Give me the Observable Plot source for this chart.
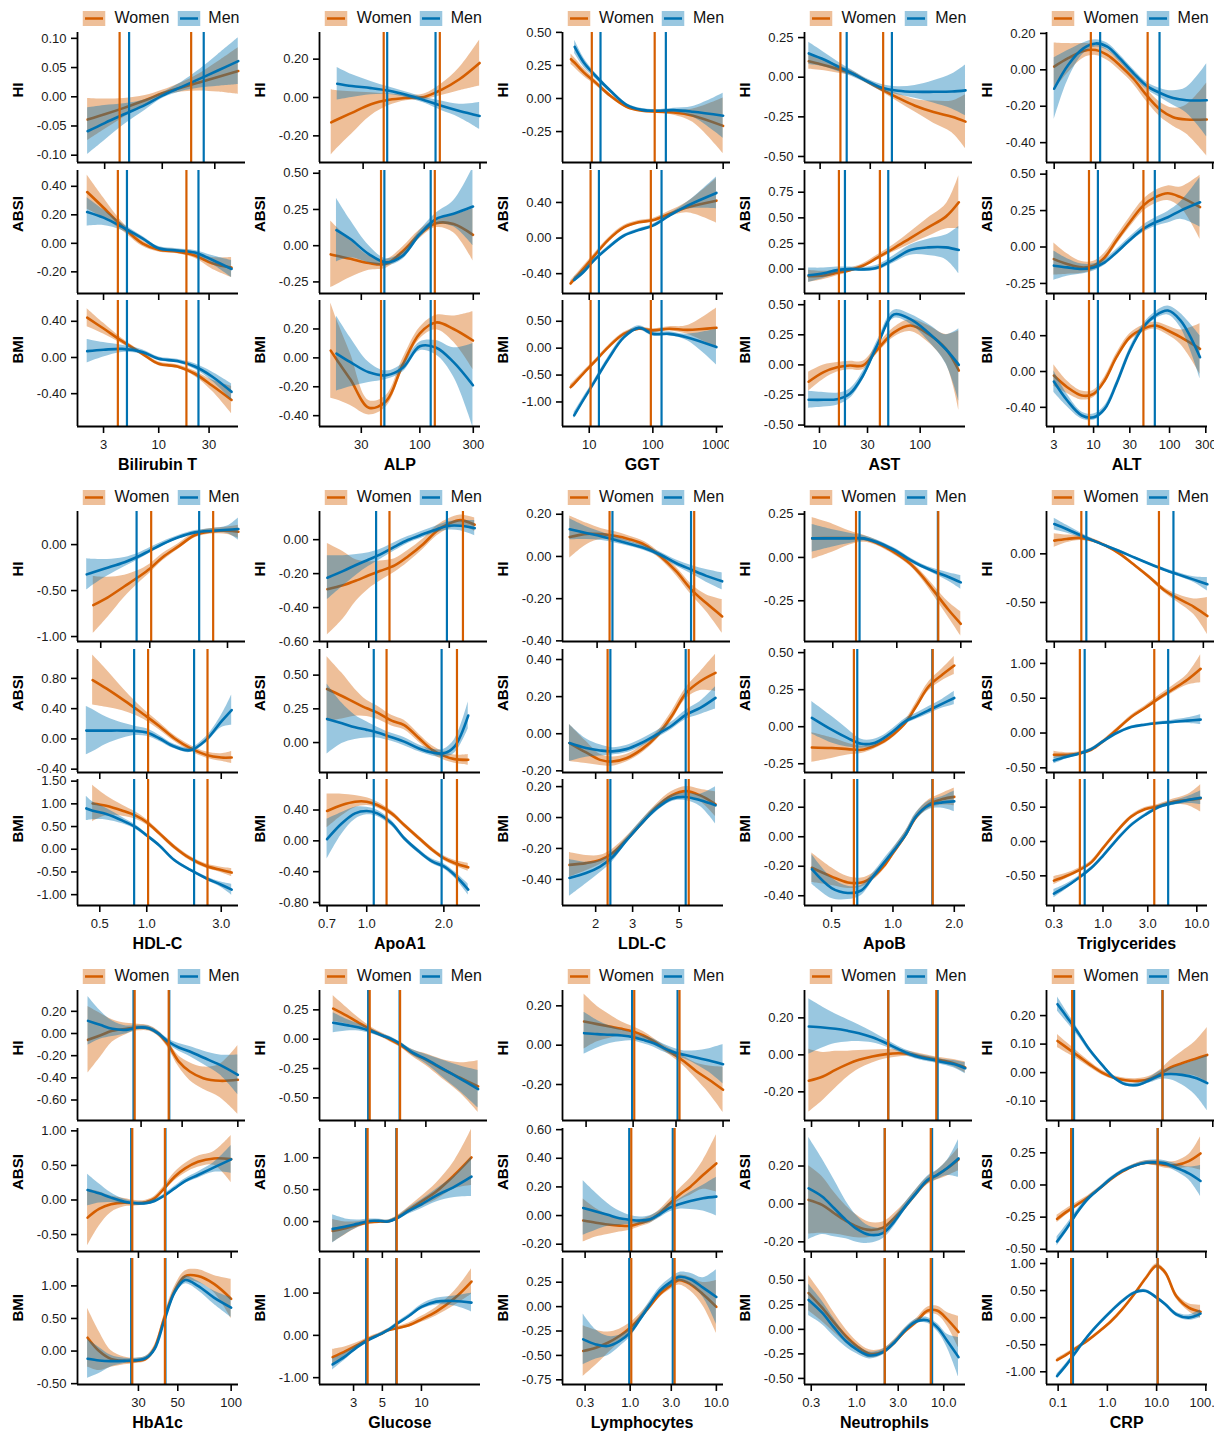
<!DOCTYPE html>
<html><head><meta charset="utf-8">
<script src="https://cdn.jsdelivr.net/npm/d3@7"></script>
<script src="https://cdn.jsdelivr.net/npm/@observablehq/plot@0.6"></script>
<style>
body{margin:0;background:#fff;font-family:"Liberation Sans",Arial,Helvetica,sans-serif;}
#chart{position:relative;width:1227px;height:1435px;overflow:hidden;background:#fff;}
.panel{position:absolute;}
.legend{position:absolute;display:flex;align-items:center;height:16px;font-size:16px;line-height:16px;color:#111;white-space:nowrap;transform:translateX(-50%);}
.legend svg{display:block;}
.xtitle{position:absolute;font-weight:bold;font-size:16px;line-height:16px;color:#000;transform:translateX(-50%);white-space:nowrap;}
</style></head><body><div id="chart"></div><script>
// ---------- categories ----------
const markers = ["Bilirubin T","ALP","GGT","AST","ALT","HDL-C","ApoA1","LDL-C","ApoB","Triglycerides","HbA1c","Glucose","Lymphocytes","Neutrophils","CRP"];
const outcomes = ["HI","ABSI","BMI"];
const sexes = ["Women","Men"];

// ---------- x axis ticks ----------
const xTickValues = [[3,10,30],[30,100,300],[10,100,1000],[10,30,100],[3,10,30,100,300],[0.5,1,3],[0.7,1,2],[2,3,5],[0.5,1,2],[0.3,1,3,10],[30,50,100],[3,5,10],[0.3,1,3,10],[0.3,1,3,10],[0.1,1,10,100]];
const xTickLabels = [["3","10","30"],["30","100","300"],["10","100","1000"],["10","30","100"],["3","10","30","100","300"],["0.5","1.0","3.0"],["0.7","1.0","2.0"],["2","3","5"],["0.5","1.0","2.0"],["0.3","1.0","3.0","10.0"],["30","50","100"],["3","5","10"],["0.3","1.0","3.0","10.0"],["0.3","1.0","3.0","10.0"],["0.1","1.0","10.0","100.0"]];
const xDomains = [[1.7,57],[12.7,348],[3.8,1290],[7.1,282],[2.4,316],[0.36,3.87],[0.654,2.78],[1.39,8.13],[0.368,2.27],[0.25,13],[13.6,110],[1.64,28.5],[0.164,12.1],[0.251,17.8],[0.058,108]];

// ---------- percentile reference lines ----------
const womenCuts = [[4.1,18.3],[45,136],[10.5,93],[15.6,39.8],[8.7,45.3],[1.02,2.45],[1.195,2.25],[2.28,5.55],[0.643,1.567],[0.567,3.52],[27.7,42.3],[3.85,6.45],[1.03,3.28],[2.1,7.1],[0.183,10.5]];
const menCuts   = [[5.0,23.8],[48.2,125],[14.2,137],[17.9,48.2],[11.4,64],[0.83,2.01],[1.065,1.96],[2.35,5.37],[0.668,1.56],[0.638,4.95],[27.3,42.6],[3.75,6.4],[0.975,3.12],[2.1,7.35],[0.2,10.5]];

// ---------- y axis domains & ticks ----------
const yDomainsHI = [[-0.1125,0.11],[-0.339,0.339],[-0.484,0.499],[-0.538,0.282],[-0.509,0.205],[-1.054,0.36],[-0.6,0.166],[-0.403,0.213],[-0.485,0.265],[-0.901,0.435],[-0.785,0.388],[-0.693,0.415],[-0.383,0.278],[-0.355,0.348],[-0.168,0.288]];
const yDomainsABSI = [[-0.352,0.511],[-0.33,0.519],[-0.623,0.759],[-0.238,0.962],[-0.319,0.525],[-0.444,1.182],[-0.222,0.69],[-0.209,0.454],[-0.309,0.521],[-0.567,1.2],[-0.745,1.034],[-0.469,1.458],[-0.251,0.608],[-0.251,0.398],[-0.517,0.439]];
const yDomainsBMI = [[-0.763,0.63],[-0.475,0.397],[-1.456,0.886],[-0.512,0.535],[-0.614,0.793],[-1.239,1.536],[-0.839,0.796],[-0.569,0.246],[-0.466,0.388],[-0.932,0.903],[-0.513,1.42],[-1.162,1.818],[-0.798,0.493],[-0.562,0.722],[-1.235,1.093]];
const yTicksHI = [[-0.1,-0.05,0,0.05,0.1],[-0.2,0,0.2],[-0.25,0,0.25,0.5],[-0.5,-0.25,0,0.25],[-0.4,-0.2,0,0.2],[-1,-0.5,0],[-0.6,-0.4,-0.2,0],[-0.4,-0.2,0,0.2],[-0.25,0,0.25],[-0.5,0],[-0.6,-0.4,-0.2,0,0.2],[-0.5,-0.25,0,0.25],[-0.2,0,0.2],[-0.2,0,0.2],[-0.1,0,0.1,0.2]];
const yTicksABSI = [[-0.2,0,0.2,0.4],[-0.25,0,0.25,0.5],[-0.4,0,0.4],[0,0.25,0.5,0.75],[-0.25,0,0.25,0.5],[-0.4,0,0.4,0.8],[0,0.25,0.5],[-0.2,0,0.2,0.4],[-0.25,0,0.25,0.5],[-0.5,0,0.5,1],[-0.5,0,0.5,1],[0,0.5,1],[-0.2,0,0.2,0.4,0.6],[-0.2,0,0.2],[-0.5,-0.25,0,0.25]];
const yTicksBMI = [[-0.4,0,0.4],[-0.4,-0.2,0,0.2],[-1,-0.5,0,0.5],[-0.5,-0.25,0,0.25,0.5],[-0.4,0,0.4],[-1,-0.5,0,0.5,1,1.5],[-0.8,-0.4,0,0.4],[-0.4,-0.2,0,0.2],[-0.4,-0.2,0,0.2],[-0.5,0,0.5],[-0.5,0,0.5,1],[-1,0,1],[-0.75,-0.5,-0.25,0,0.25],[-0.5,-0.25,0,0.25,0.5],[-1,-0.5,0,0.5,1]];

// ---------- curves: each panel = [women estimate, women ±CI, men estimate, men ±CI] at the marker's x knots ----------
const bilirubinX = [2.1,3,4.5,7,10,15,22,32,49];
const bilirubinHI = [
  [-0.039,-0.030,-0.019,-0.006,0.006,0.016,0.025,0.034,0.044],
  [0.036,0.026,0.016,0.008,0.005,0.008,0.015,0.026,0.040],
  [-0.059,-0.045,-0.030,-0.014,0.002,0.017,0.031,0.045,0.061],
  [0.040,0.030,0.018,0.009,0.005,0.008,0.016,0.027,0.040]];
const bilirubinABSI = [
  [0.36,0.25,0.12,0.00,-0.045,-0.058,-0.085,-0.14,-0.17],
  [0.12,0.07,0.03,0.02,0.015,0.015,0.02,0.04,0.07],
  [0.22,0.18,0.115,0.035,-0.035,-0.05,-0.065,-0.115,-0.18],
  [0.10,0.055,0.025,0.015,0.012,0.012,0.015,0.03,0.06]];
const bilirubinBMI = [
  [0.44,0.32,0.18,0.04,-0.07,-0.10,-0.18,-0.31,-0.47],
  [0.10,0.06,0.03,0.02,0.02,0.02,0.03,0.06,0.15],
  [0.07,0.085,0.095,0.06,-0.015,-0.04,-0.10,-0.21,-0.38],
  [0.13,0.08,0.04,0.025,0.02,0.02,0.03,0.05,0.09]];

const alpX = [16,18,24,35,50,70,100,140,200,298];
const alpHI = [
  [-0.13,-0.115,-0.08,-0.035,-0.012,-0.002,0.003,0.04,0.095,0.18],
  [0.17,0.15,0.11,0.06,0.03,0.015,0.015,0.03,0.06,0.12],
  [null,0.072,0.06,0.049,0.035,0.014,-0.014,-0.043,-0.07,-0.096],
  [null,0.085,0.06,0.035,0.02,0.015,0.015,0.025,0.035,0.07]];
const alpABSI = [
  [-0.06,-0.07,-0.09,-0.12,-0.125,-0.04,0.08,0.155,0.15,0.075],
  [0.23,0.2,0.13,0.05,0.03,0.03,0.03,0.03,0.06,0.18],
  [null,0.108,0.046,-0.058,-0.115,-0.07,0.08,0.185,0.22,0.27],
  [null,0.22,0.13,0.06,0.025,0.025,0.025,0.04,0.09,0.27]];
const alpBMI = [
  [0.05,-0.01,-0.15,-0.345,-0.30,-0.05,0.17,0.245,0.20,0.12],
  [0.33,0.28,0.18,0.05,0.04,0.04,0.04,0.05,0.09,0.2],
  [null,0.03,-0.03,-0.10,-0.12,-0.07,0.08,0.07,-0.03,-0.19],
  [null,0.26,0.17,0.07,0.03,0.03,0.03,0.05,0.1,0.29]];

const ggtX = [5.1,5.8,8,12,20,35,60,100,180,350,1000];
const ggtHI = [
  [0.297,0.27,0.196,0.12,0.02,-0.063,-0.093,-0.10,-0.106,-0.13,-0.207],
  [0.04,0.037,0.03,0.02,0.015,0.01,0.01,0.01,0.02,0.05,0.21],
  [null,0.39,0.27,0.17,0.058,-0.048,-0.086,-0.093,-0.088,-0.10,-0.13],
  [null,0.05,0.035,0.02,0.015,0.01,0.01,0.01,0.015,0.04,0.17]];
const ggtABSI = [
  [-0.51,-0.465,-0.35,-0.2,-0.02,0.12,0.177,0.2,0.27,0.345,0.42],
  [0.03,0.03,0.03,0.025,0.02,0.02,0.02,0.02,0.03,0.06,0.25],
  [null,-0.47,-0.387,-0.248,-0.105,0.026,0.09,0.14,0.25,0.364,0.507],
  [null,0.03,0.025,0.02,0.015,0.015,0.015,0.015,0.02,0.04,0.18]];
const ggtBMI = [
  [-0.725,-0.66,-0.477,-0.26,0.02,0.266,0.36,0.33,0.36,0.34,0.378],
  [0.05,0.05,0.04,0.03,0.03,0.03,0.03,0.03,0.04,0.08,0.37],
  [null,-1.25,-0.97,-0.63,-0.2,0.2,0.378,0.266,0.266,0.2,0.02],
  [null,0.06,0.05,0.04,0.04,0.04,0.04,0.04,0.04,0.06,0.33]];

const astX = [7.8,11,15,20,27,38,55,80,120,180,242];
const astHI = [
  [0.1,0.075,0.05,0.025,-0.022,-0.075,-0.13,-0.18,-0.22,-0.25,-0.28],
  [0.05,0.035,0.025,0.015,0.012,0.015,0.025,0.04,0.07,0.1,0.17],
  [0.15,0.11,0.065,0.025,-0.02,-0.065,-0.085,-0.092,-0.092,-0.09,-0.083],
  [0.07,0.045,0.03,0.02,0.015,0.02,0.025,0.04,0.07,0.11,0.16]];
const astABSI = [
  [-0.07,-0.062,-0.036,-0.01,0.033,0.114,0.205,0.303,0.408,0.512,0.652],
  [0.06,0.04,0.03,0.02,0.02,0.025,0.035,0.06,0.09,0.12,0.26],
  [-0.06,-0.04,-0.01,0,-0.003,0.016,0.098,0.186,0.212,0.212,0.186],
  [0.07,0.05,0.03,0.02,0.02,0.025,0.035,0.05,0.08,0.12,0.23]];
const astBMI = [
  [-0.14,-0.06,-0.02,-0.005,-0.005,0.133,0.27,0.327,0.258,0.133,-0.047],
  [0.08,0.06,0.04,0.035,0.035,0.035,0.04,0.05,0.07,0.12,0.33],
  [-0.29,-0.29,-0.285,-0.24,-0.09,0.175,0.42,0.38,0.27,0.13,0.0],
  [0.07,0.06,0.05,0.04,0.035,0.035,0.035,0.04,0.07,0.12,0.3]];

const altX = [3,4.5,7,10,14,20,30,45,65,95,140,252];
const altHI = [
  [0.018,0.064,0.104,0.109,0.082,0.027,-0.049,-0.145,-0.218,-0.26,-0.273,-0.273],
  [0.13,0.08,0.04,0.03,0.03,0.03,0.03,0.035,0.04,0.05,0.08,0.2],
  [-0.104,0.027,0.118,0.145,0.127,0.064,-0.018,-0.091,-0.127,-0.155,-0.167,-0.167],
  [0.17,0.08,0.03,0.02,0.02,0.02,0.02,0.02,0.025,0.04,0.07,0.2]];
const altABSI = [
  [-0.083,-0.117,-0.14,-0.128,-0.071,0.044,0.17,0.284,0.342,0.369,0.342,0.273],
  [0.11,0.07,0.04,0.03,0.03,0.03,0.035,0.04,0.045,0.05,0.07,0.22],
  [-0.128,-0.14,-0.151,-0.14,-0.105,-0.037,0.048,0.124,0.17,0.204,0.25,0.307],
  [0.1,0.06,0.035,0.025,0.02,0.02,0.02,0.025,0.03,0.04,0.06,0.17]];
const altBMI = [
  [-0.045,-0.175,-0.268,-0.249,-0.1,0.16,0.383,0.476,0.513,0.458,0.383,0.253],
  [0.12,0.07,0.05,0.04,0.04,0.04,0.04,0.04,0.04,0.05,0.08,0.28],
  [-0.112,-0.324,-0.491,-0.51,-0.417,-0.138,0.234,0.495,0.625,0.681,0.569,0.16],
  [0.12,0.07,0.04,0.035,0.035,0.03,0.03,0.035,0.04,0.05,0.08,0.24]];

const hdlX = [0.41,0.45,0.55,0.7,0.85,1.0,1.2,1.5,1.9,2.4,3.0,3.5];
const hdlHI = [
  [null,-0.658,-0.576,-0.453,-0.353,-0.263,-0.137,-0.02,0.104,0.144,0.151,0.14],
  [null,0.31,0.22,0.12,0.07,0.05,0.04,0.03,0.03,0.03,0.04,0.07],
  [-0.324,-0.3,-0.252,-0.191,-0.13,-0.065,0.007,0.08,0.133,0.151,0.162,0.169],
  [0.17,0.14,0.09,0.05,0.035,0.03,0.025,0.02,0.02,0.025,0.04,0.12]];
const hdlABSI = [
  [null,0.778,0.668,0.523,0.4,0.295,0.171,0.009,-0.123,-0.211,-0.246,-0.246],
  [null,0.33,0.25,0.15,0.09,0.06,0.05,0.04,0.04,0.04,0.05,0.08],
  [0.11,0.11,0.11,0.11,0.105,0.084,0.009,-0.101,-0.15,-0.013,0.229,0.382],
  [0.32,0.28,0.18,0.1,0.06,0.05,0.04,0.03,0.03,0.04,0.08,0.2]];
const hdlBMI = [
  [null,1.007,0.957,0.848,0.739,0.594,0.355,0.051,-0.203,-0.37,-0.457,-0.514],
  [null,0.4,0.22,0.12,0.08,0.06,0.05,0.05,0.05,0.05,0.06,0.09],
  [0.899,0.848,0.775,0.63,0.486,0.304,0.087,-0.239,-0.457,-0.638,-0.783,-0.891],
  [0.27,0.2,0.13,0.07,0.05,0.04,0.035,0.035,0.035,0.04,0.06,0.12]];

const apoa1X = [0.7,0.8,0.9,1.0,1.1,1.25,1.4,1.6,1.8,2.0,2.2,2.49];
const apoa1HI = [
  [-0.292,-0.269,-0.24,-0.21,-0.185,-0.152,-0.099,-0.025,0.053,0.095,0.115,0.088],
  [0.27,0.2,0.12,0.08,0.06,0.04,0.035,0.03,0.03,0.03,0.03,0.04],
  [-0.224,-0.185,-0.148,-0.117,-0.088,-0.041,-0.002,0.033,0.062,0.082,0.082,0.068],
  [0.13,0.09,0.06,0.04,0.03,0.025,0.02,0.02,0.02,0.025,0.03,0.045]];
const apoa1ABSI = [
  [0.397,0.345,0.296,0.254,0.222,0.163,0.13,0.032,-0.054,-0.099,-0.123,-0.128],
  [0.24,0.17,0.1,0.06,0.05,0.04,0.035,0.03,0.03,0.03,0.03,0.04],
  [0.175,0.143,0.113,0.094,0.074,0.039,0.007,-0.044,-0.074,-0.079,-0.03,0.2],
  [0.26,0.15,0.09,0.06,0.04,0.03,0.03,0.025,0.025,0.03,0.05,0.1]];
const apoa1BMI = [
  [0.387,0.465,0.508,0.508,0.465,0.357,0.206,0.034,-0.116,-0.224,-0.288,-0.344],
  [0.22,0.14,0.08,0.05,0.04,0.035,0.03,0.03,0.03,0.03,0.035,0.05],
  [0.022,0.228,0.357,0.387,0.357,0.228,0.034,-0.138,-0.267,-0.331,-0.439,-0.632],
  [0.26,0.14,0.08,0.05,0.04,0.035,0.03,0.03,0.03,0.035,0.04,0.07]];

const ldlX = [1.5,1.8,2.1,2.4,2.8,3.3,3.9,4.6,5.4,6.3,7.45];
const ldlHI = [
  [0.092,0.107,0.106,0.098,0.082,0.055,0.0,-0.071,-0.158,-0.221,-0.284],
  [0.1,0.05,0.025,0.02,0.015,0.015,0.015,0.02,0.025,0.04,0.08],
  [0.129,0.11,0.095,0.079,0.06,0.039,0.008,-0.032,-0.063,-0.092,-0.118],
  [0.05,0.03,0.02,0.015,0.012,0.012,0.012,0.015,0.02,0.03,0.04]];
const ldlABSI = [
  [-0.05,-0.101,-0.141,-0.15,-0.132,-0.086,-0.014,0.094,0.22,0.283,0.328],
  [0.1,0.06,0.03,0.025,0.02,0.02,0.02,0.025,0.03,0.05,0.1],
  [-0.05,-0.077,-0.09,-0.095,-0.083,-0.05,-0.005,0.043,0.103,0.139,0.193],
  [0.1,0.05,0.03,0.02,0.02,0.02,0.02,0.02,0.025,0.035,0.06]];
const ldlBMI = [
  [-0.306,-0.295,-0.274,-0.231,-0.145,-0.039,0.068,0.143,0.171,0.143,0.086],
  [0.08,0.05,0.03,0.025,0.02,0.02,0.02,0.025,0.03,0.04,0.08],
  [-0.391,-0.359,-0.317,-0.257,-0.15,-0.039,0.058,0.122,0.133,0.111,0.079],
  [0.12,0.07,0.04,0.03,0.02,0.02,0.02,0.02,0.025,0.04,0.12]];

const apobX = [0.4,0.5,0.6,0.7,0.8,0.9,1.0,1.15,1.3,1.5,1.75,2.0];
const apobHI = [
  [0.11,0.112,0.112,0.108,0.085,0.054,0.021,-0.033,-0.1,-0.196,-0.302,-0.383],
  [0.12,0.08,0.04,0.02,0.015,0.015,0.015,0.015,0.02,0.03,0.045,0.07],
  [0.11,0.11,0.11,0.11,0.09,0.063,0.035,-0.013,-0.048,-0.081,-0.113,-0.144],
  [0.08,0.05,0.03,0.015,0.012,0.012,0.012,0.012,0.012,0.015,0.025,0.04]];
const apobABSI = [
  [-0.14,-0.144,-0.151,-0.156,-0.133,-0.099,-0.054,0.025,0.138,0.273,0.352,0.413],
  [0.1,0.07,0.04,0.025,0.02,0.02,0.02,0.02,0.025,0.03,0.04,0.06],
  [0.06,-0.02,-0.077,-0.115,-0.111,-0.077,-0.032,0.036,0.07,0.111,0.156,0.194],
  [0.11,0.09,0.06,0.03,0.025,0.02,0.02,0.02,0.02,0.025,0.03,0.045]];
const apobBMI = [
  [-0.21,-0.27,-0.31,-0.31,-0.27,-0.2,-0.11,0.01,0.135,0.22,0.255,0.27],
  [0.1,0.06,0.04,0.03,0.025,0.025,0.025,0.025,0.025,0.03,0.04,0.06],
  [-0.22,-0.348,-0.381,-0.363,-0.269,-0.179,-0.101,0.011,0.139,0.213,0.233,0.24],
  [0.1,0.07,0.045,0.035,0.025,0.025,0.025,0.025,0.025,0.03,0.04,0.07]];

const tgX = [0.3,0.4,0.55,0.75,1.0,1.4,2.0,2.8,4.0,5.5,8.0,11];
const tgHI = [
  [0.136,0.153,0.163,0.136,0.085,0,-0.119,-0.238,-0.374,-0.459,-0.544,-0.639],
  [0.07,0.04,0.025,0.02,0.015,0.015,0.015,0.02,0.025,0.04,0.08,0.19],
  [0.306,0.255,0.194,0.136,0.085,0.027,-0.041,-0.102,-0.163,-0.211,-0.265,-0.313],
  [0.06,0.04,0.025,0.015,0.012,0.012,0.012,0.012,0.015,0.02,0.03,0.07]];
const tgABSI = [
  [-0.313,-0.313,-0.298,-0.24,-0.12,0.048,0.231,0.36,0.505,0.625,0.769,0.923],
  [0.05,0.03,0.025,0.02,0.02,0.02,0.025,0.03,0.04,0.05,0.08,0.2],
  [-0.394,-0.346,-0.298,-0.231,-0.12,0.0,0.087,0.12,0.144,0.159,0.178,0.192],
  [0.05,0.03,0.02,0.015,0.015,0.015,0.015,0.015,0.02,0.025,0.04,0.07]];
const tgBMI = [
  [-0.57,-0.507,-0.42,-0.304,-0.097,0.145,0.362,0.469,0.517,0.575,0.604,0.628],
  [0.06,0.04,0.03,0.025,0.02,0.02,0.02,0.025,0.03,0.04,0.08,0.2],
  [-0.758,-0.662,-0.531,-0.386,-0.208,0.024,0.242,0.386,0.507,0.556,0.604,0.638],
  [0.06,0.04,0.025,0.02,0.02,0.02,0.02,0.02,0.025,0.03,0.05,0.1]];

const hba1cX = [15.5,18,21,25,29,33,37,42,48,55,65,80,100];
const hba1cHI = [
  [-0.057,-0.018,0.024,0.042,0.054,0.048,0.003,-0.102,-0.253,-0.343,-0.403,-0.427,-0.418],
  [0.3,0.2,0.1,0.05,0.03,0.025,0.025,0.03,0.05,0.08,0.1,0.15,0.31],
  [0.114,0.078,0.042,0.033,0.054,0.048,0.003,-0.072,-0.126,-0.162,-0.217,-0.283,-0.373],
  [0.22,0.13,0.07,0.035,0.02,0.02,0.02,0.025,0.035,0.045,0.06,0.09,0.18]];
const hba1cABSI = [
  [-0.255,-0.13,-0.063,-0.038,-0.048,-0.034,0.024,0.168,0.337,0.457,0.553,0.601,0.591],
  [0.41,0.25,0.12,0.06,0.04,0.03,0.03,0.04,0.06,0.07,0.08,0.1,0.34],
  [0.144,0.096,0.034,-0.024,-0.048,-0.048,-0.014,0.063,0.168,0.274,0.361,0.471,0.587],
  [0.23,0.14,0.07,0.035,0.025,0.025,0.025,0.025,0.03,0.035,0.045,0.07,0.2]];
const hba1cBMI = [
  [0.205,0.0,-0.12,-0.15,-0.15,-0.12,0.05,0.51,0.92,1.15,1.15,1.03,0.8],
  [0.45,0.3,0.13,0.06,0.04,0.04,0.04,0.05,0.07,0.08,0.1,0.13,0.3],
  [-0.118,-0.144,-0.154,-0.15,-0.14,-0.11,0.03,0.47,0.9,1.09,1.0,0.82,0.667],
  [0.3,0.2,0.09,0.04,0.03,0.03,0.03,0.04,0.05,0.06,0.07,0.1,0.15]];

const glucoseX = [2.07,2.6,3.2,4.0,4.8,5.5,6.5,8,10,13,18,24.3];
const glucoseHI = [
  [0.26,0.2,0.14,0.075,0.03,-0.005,-0.05,-0.12,-0.175,-0.25,-0.33,-0.403],
  [0.11,0.07,0.04,0.025,0.02,0.02,0.02,0.03,0.05,0.08,0.13,0.22],
  [0.14,0.12,0.1,0.065,0.03,0.005,-0.04,-0.115,-0.17,-0.245,-0.338,-0.426],
  [0.085,0.05,0.03,0.02,0.015,0.015,0.015,0.025,0.04,0.07,0.11,0.16]];
const glucoseABSI = [
  [-0.147,-0.105,-0.052,-0.01,0.0,0.0,0.063,0.183,0.314,0.471,0.733,1.005],
  [0.18,0.1,0.05,0.03,0.025,0.025,0.03,0.05,0.08,0.13,0.22,0.44],
  [-0.115,-0.078,-0.036,0.01,0.01,0.0,0.052,0.167,0.271,0.406,0.547,0.703],
  [0.22,0.12,0.06,0.03,0.025,0.025,0.03,0.05,0.07,0.1,0.17,0.31]];
const glucoseBMI = [
  [-0.514,-0.372,-0.229,-0.071,0.024,0.119,0.17,0.24,0.38,0.561,0.877,1.273],
  [0.18,0.1,0.06,0.04,0.035,0.035,0.04,0.05,0.07,0.1,0.17,0.3],
  [-0.688,-0.49,-0.277,-0.095,0.024,0.119,0.277,0.458,0.672,0.798,0.814,0.775],
  [0.13,0.08,0.05,0.035,0.03,0.03,0.035,0.04,0.06,0.08,0.12,0.22]];

const lymphX = [0.285,0.4,0.55,0.75,1.0,1.3,1.7,2.2,2.9,3.7,5,7,10];
const lymphHI = [
  [0.12,0.107,0.095,0.083,0.069,0.049,0.019,-0.015,-0.049,-0.083,-0.131,-0.176,-0.227],
  [0.14,0.09,0.06,0.035,0.025,0.02,0.015,0.015,0.02,0.025,0.04,0.07,0.115],
  [0.061,0.056,0.053,0.049,0.041,0.027,0.01,-0.015,-0.037,-0.049,-0.063,-0.078,-0.097],
  [0.106,0.07,0.045,0.03,0.02,0.02,0.02,0.02,0.02,0.02,0.035,0.06,0.1]];
const lymphABSI = [
  [-0.035,-0.05,-0.062,-0.07,-0.072,-0.053,-0.03,0.016,0.086,0.144,0.202,0.283,0.364],
  [0.15,0.1,0.07,0.045,0.03,0.025,0.025,0.025,0.03,0.04,0.06,0.1,0.2],
  [0.053,0.028,0.005,-0.019,-0.03,-0.035,-0.026,0.009,0.056,0.079,0.102,0.121,0.132],
  [0.19,0.13,0.08,0.05,0.03,0.025,0.025,0.025,0.03,0.035,0.06,0.09,0.135]];
const lymphBMI = [
  [-0.455,-0.421,-0.37,-0.301,-0.216,-0.113,0.007,0.127,0.212,0.271,0.229,0.127,-0.003],
  [0.26,0.18,0.11,0.07,0.05,0.04,0.035,0.035,0.04,0.05,0.07,0.12,0.27],
  [-0.336,-0.387,-0.404,-0.353,-0.267,-0.13,0.024,0.161,0.247,0.305,0.281,0.195,0.099],
  [0.26,0.15,0.1,0.06,0.045,0.035,0.035,0.035,0.04,0.045,0.06,0.1,0.28]];

const neutX = [0.28,0.4,0.55,0.75,1.0,1.4,2.0,2.7,3.6,4.8,6.5,8.5,11,14.8];
const neutHI = [
  [-0.14,-0.117,-0.081,-0.05,-0.027,-0.009,0.004,0.009,0.005,-0.009,-0.022,-0.032,-0.045,-0.068],
  [0.17,0.13,0.1,0.07,0.05,0.035,0.025,0.02,0.015,0.015,0.015,0.015,0.02,0.03],
  [0.153,0.148,0.141,0.13,0.117,0.095,0.063,0.032,0.005,-0.014,-0.027,-0.04,-0.05,-0.072],
  [0.15,0.11,0.08,0.06,0.045,0.03,0.02,0.015,0.015,0.015,0.015,0.015,0.02,0.03]];
const neutABSI = [
  [0.021,-0.005,-0.049,-0.089,-0.119,-0.137,-0.125,-0.075,-0.014,0.056,0.121,0.153,0.188,0.235],
  [0.18,0.15,0.11,0.08,0.06,0.04,0.03,0.025,0.02,0.02,0.02,0.025,0.04,0.06],
  [0.082,0.039,-0.023,-0.084,-0.132,-0.163,-0.154,-0.093,-0.014,0.056,0.126,0.155,0.19,0.24],
  [0.27,0.2,0.15,0.1,0.07,0.045,0.03,0.025,0.02,0.02,0.02,0.025,0.04,0.1]];
const neutBMI = [
  [0.37,0.221,0.068,-0.068,-0.17,-0.249,-0.228,-0.136,-0.017,0.075,0.19,0.19,0.102,-0.027],
  [0.18,0.14,0.1,0.07,0.05,0.04,0.03,0.03,0.03,0.03,0.035,0.045,0.07,0.16],
  [0.3,0.17,0.017,-0.119,-0.204,-0.266,-0.232,-0.136,-0.01,0.08,0.092,0.017,-0.119,-0.283],
  [0.16,0.12,0.09,0.06,0.045,0.035,0.03,0.025,0.025,0.025,0.03,0.04,0.07,0.2]];

const crpX = [0.095,0.15,0.25,0.4,0.7,1.2,2,3.5,6,10,15,25,45,78];
const crpHI = [
  [0.111,0.085,0.056,0.029,0.0,-0.018,-0.027,-0.029,-0.022,-0.002,0.018,0.033,0.048,0.062],
  [0.023,0.018,0.013,0.01,0.008,0.007,0.007,0.008,0.01,0.015,0.025,0.04,0.06,0.096],
  [0.24,0.191,0.135,0.08,0.027,-0.018,-0.041,-0.043,-0.026,-0.008,-0.005,-0.008,-0.018,-0.037],
  [0.025,0.018,0.012,0.009,0.007,0.006,0.006,0.007,0.01,0.015,0.02,0.035,0.06,0.097]];
const crpABSI = [
  [-0.264,-0.207,-0.15,-0.098,-0.026,0.047,0.103,0.15,0.173,0.168,0.155,0.155,0.186,0.245],
  [0.03,0.025,0.02,0.015,0.012,0.012,0.012,0.012,0.015,0.02,0.025,0.03,0.05,0.13],
  [-0.439,-0.336,-0.207,-0.109,-0.026,0.052,0.109,0.15,0.173,0.176,0.168,0.134,0.09,0.031],
  [0.035,0.03,0.02,0.015,0.012,0.012,0.012,0.012,0.015,0.02,0.02,0.03,0.05,0.12]];
const crpBMI = [
  [-0.784,-0.679,-0.543,-0.42,-0.247,-0.062,0.154,0.432,0.728,0.957,0.833,0.401,0.185,0.111],
  [0.03,0.03,0.025,0.02,0.02,0.02,0.02,0.025,0.03,0.04,0.05,0.05,0.07,0.12],
  [-1.08,-0.864,-0.586,-0.34,-0.093,0.123,0.309,0.463,0.494,0.37,0.247,0.062,0.0,0.074],
  [0.04,0.035,0.025,0.02,0.02,0.02,0.02,0.02,0.025,0.03,0.035,0.04,0.05,0.07]];

// table tying the small arrays to the markers
const knots = [bilirubinX,alpX,ggtX,astX,altX,hdlX,apoa1X,ldlX,apobX,tgX,hba1cX,glucoseX,lymphX,neutX,crpX];
const panels = [
  [bilirubinHI,bilirubinABSI,bilirubinBMI],[alpHI,alpABSI,alpBMI],[ggtHI,ggtABSI,ggtBMI],[astHI,astABSI,astBMI],[altHI,altABSI,altBMI],
  [hdlHI,hdlABSI,hdlBMI],[apoa1HI,apoa1ABSI,apoa1BMI],[ldlHI,ldlABSI,ldlBMI],[apobHI,apobABSI,apobBMI],[tgHI,tgABSI,tgBMI],
  [hba1cHI,hba1cABSI,hba1cBMI],[glucoseHI,glucoseABSI,glucoseBMI],[lymphHI,lymphABSI,lymphBMI],[neutHI,neutABSI,neutBMI],[crpHI,crpABSI,crpBMI]];
const yDomains = [yDomainsHI, yDomainsABSI, yDomainsBMI];
const yTicks = [yTicksHI, yTicksABSI, yTicksBMI];

// ---------- styling / layout ----------
const colors = {Women: "#D55E00", Men: "#0072B2"};
const FONT = "'Liberation Sans', Arial, Helvetica, sans-serif";
const COLW = 242.3, GROUPH = 479, ML = 77, MT = 10, MR = 6.5;
const rowsLayout = [{top: 32, h: 130, w: 168}, {top: 170, h: 123, w: 161}, {top: 300, h: 126, w: 161}];
const chart = document.getElementById("chart");

function series(xs, p, s) {
  const est = p[s * 2], ci = p[s * 2 + 1];
  const out = [];
  xs.forEach((x, i) => { if (est[i] != null) out.push({x, y: est[i], lo: est[i] - ci[i], hi: est[i] + ci[i]}); });
  return out;
}

markers.forEach((name, m) => {
  const g = Math.floor(m / 5), c = m % 5;
  const X0 = c * COLW, Y0 = g * GROUPH;
  outcomes.forEach((oc, k) => {
    const L = rowsLayout[k];
    const isBMI = k === 2;
    const MB = isBMI ? 32 : 10;
    const p = panels[m][k];
    const women = series(knots[m], p, 0), men = series(knots[m], p, 1);
    const yd = yDomains[k][m];
    const xt = xTickValues[m], xl = xTickLabels[m];
    const width = ML + L.w + MR, height = MT + L.h + MB;
    const svg = Plot.plot({
      width, height, marginLeft: ML, marginRight: MR, marginTop: MT, marginBottom: MB,
      style: {background: "transparent", overflow: "hidden", fontFamily: FONT, fontSize: "13px", color: "#000"},
      x: {type: "log", domain: xDomains[m]},
      y: {domain: yd},
      marks: [
        Plot.areaY(women, {x: "x", y1: "lo", y2: "hi", fill: colors.Women, fillOpacity: 0.4, curve: "catmull-rom", clip: true}),
        Plot.line(women, {x: "x", y: "y", stroke: colors.Women, strokeWidth: 2.6, curve: "catmull-rom", clip: true}),
        Plot.areaY(men, {x: "x", y1: "lo", y2: "hi", fill: colors.Men, fillOpacity: 0.4, curve: "catmull-rom", clip: true}),
        Plot.line(men, {x: "x", y: "y", stroke: colors.Men, strokeWidth: 2.6, curve: "catmull-rom", clip: true}),
        Plot.ruleX(menCuts[m], {stroke: colors.Men, strokeWidth: 2.2}),
        Plot.ruleX(womenCuts[m], {stroke: colors.Women, strokeWidth: 2.2}),
        Plot.axisY({ticks: yTicks[k][m], tickFormat: d => d.toFixed(2), tickSize: 6, tickPadding: 5, fontSize: 13, label: null, strokeWidth: 1.6, fill: "#1a1a1a"}),
        Plot.axisX({ticks: xt, tickFormat: d => isBMI ? xl[xt.indexOf(d)] : "", tickSize: 7, tickPadding: 6, fontSize: 13, label: null, strokeWidth: 1.6, fill: "#1a1a1a"}),
        Plot.ruleX([xDomains[m][0]], {stroke: "#000", strokeWidth: 1.8}),
        Plot.ruleY([yd[0]], {stroke: "#000", strokeWidth: 1.8}),
        Plot.text([oc], {text: d => d, frameAnchor: "left", dx: -59, rotate: -90, fontWeight: "bold", fontSize: 15, fill: "#000"})
      ]
    });
    const div = document.createElement("div");
    div.className = "panel";
    div.style.left = X0 + "px";
    div.style.top = (Y0 + L.top - MT) + "px";
    div.style.width = width + "px";
    div.style.height = height + "px";
    div.appendChild(svg);
    chart.appendChild(div);
  });
  // legend above the HI panel
  const lg = document.createElement("div");
  lg.className = "legend";
  lg.style.left = (X0 + ML + rowsLayout[0].w / 2) + "px";
  lg.style.top = (Y0 + 10) + "px";
  const sw = col => `<svg width="23" height="15"><rect width="23" height="15" fill="${col}" fill-opacity="0.4"></rect><line x1="2.5" x2="20.5" y1="7.5" y2="7.5" stroke="${col}" stroke-width="2.6"></line></svg>`;
  lg.innerHTML = sw(colors.Women) + `<span style="margin:0 8px 0 9px">${sexes[0]}</span>` + sw(colors.Men) + `<span style="margin-left:8px">${sexes[1]}</span>`;
  chart.appendChild(lg);
  // x-axis title under the BMI panel
  const t = document.createElement("div");
  t.className = "xtitle";
  t.style.left = (X0 + ML + rowsLayout[2].w / 2) + "px";
  t.style.top = (Y0 + 457) + "px";
  t.textContent = name;
  chart.appendChild(t);
});
</script></body></html>
